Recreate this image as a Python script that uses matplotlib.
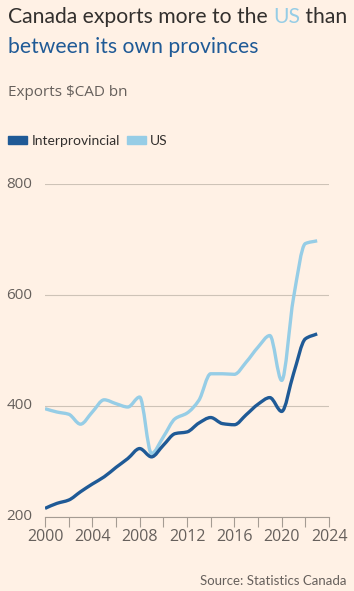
import matplotlib.pyplot as plt
from matplotlib.path import Path
from matplotlib.patches import PathPatch
import numpy as np

# data, $CAD bn
years = list(range(2000, 2024))
interprovincial = [215, 224, 230, 245, 259, 272, 289, 305, 323, 308, 329, 350,
                   353, 369, 379, 368, 366, 384, 403, 415, 390, 458, 521, 530]
us = [395, 389, 385, 367, 389, 411, 404, 398, 416, 314, 344, 377,
      387, 410, 458, 458, 457, 479, 506, 527, 446, 595, 693, 698]

y_ticks = [200, 400, 600, 800]
x_ticks = [2000, 2004, 2008, 2012, 2016, 2020, 2024]

BG = '#FFF1E5'
DARK = '#1F5A96'
LIGHT = '#96CDE6'
TEXT = '#33302E'
GREY = '#66605C'
GRID = '#CEC3B7'

plt.rcParams['font.family'] = ['Open Sans', 'DejaVu Sans']
LATO = ['Lato', 'DejaVu Sans']


def monotone_path(x, y):
    # cubic bezier path through the points (monotone-x tangents, like d3)
    x = np.asarray(x, float)
    y = np.asarray(y, float)
    h = np.diff(x)
    d = np.diff(y) / h
    m = np.zeros_like(y)
    m[0], m[-1] = d[0], d[-1]
    for i in range(1, len(y) - 1):
        if d[i-1] * d[i] <= 0:
            m[i] = 0
        else:
            m[i] = 3 * (h[i-1] + h[i]) / ((2*h[i] + h[i-1]) / d[i-1] + (h[i] + 2*h[i-1]) / d[i])
    verts = [(x[0], y[0])]
    codes = [Path.MOVETO]
    for i in range(len(x) - 1):
        dx = h[i] / 3
        verts += [(x[i] + dx, y[i] + m[i]*dx), (x[i+1] - dx, y[i+1] - m[i+1]*dx), (x[i+1], y[i+1])]
        codes += [Path.CURVE4] * 3
    return Path(verts, codes)


fig = plt.figure(figsize=(3.54, 5.91), dpi=100, facecolor=BG)
ax = fig.add_axes([45/354, 74.3/591, 284/354, 332.4/591], facecolor=BG)

for vals, col, z in [(us, LIGHT, 3), (interprovincial, DARK, 4)]:
    ax.add_patch(PathPatch(monotone_path(years, vals), facecolor='none', edgecolor=col,
                           lw=2.4, joinstyle='round', capstyle='butt', zorder=z))

ax.set_xlim(2000, 2024)
ax.set_ylim(200, 800)
ax.set_yticks(y_ticks)
ax.set_xticks(x_ticks)
ax.set_xticks(range(2000, 2025, 2), minor=True)
ax.grid(axis='y', color=GRID, lw=0.8)
ax.set_axisbelow(True)
for s in ['top', 'right', 'left']:
    ax.spines[s].set_visible(False)
ax.spines['bottom'].set_color('#A59C93')
ax.spines['bottom'].set_linewidth(0.8)
ax.tick_params(axis='y', length=0, pad=9, labelsize=11, labelcolor=GREY)
ax.tick_params(axis='x', which='both', length=7, width=0.8, color='#A59C93',
               labelsize=11.5, labelcolor=GREY, pad=2)
for lbl in ax.get_yticklabels():
    lbl.set_verticalalignment('center')

# title, two colours
ty = 1 - 17/591
t1 = fig.text(8/354, ty, 'Canada exports more to the ', fontsize=15.2, color=TEXT,
              va='center', family=LATO)
fig.canvas.draw()
r = fig.canvas.get_renderer()
bb = t1.get_window_extent(r)
t2 = fig.text(bb.x1/354, ty, 'US', fontsize=15.2, color=LIGHT, va='center', family=LATO)
bb2 = t2.get_window_extent(r)
fig.text(bb2.x1/354, ty, ' than', fontsize=15.2, color=TEXT, va='center', family=LATO)
fig.text(8/354, 1 - 47/591, 'between its own provinces', fontsize=15.2, color=DARK,
         va='center', family=LATO)

fig.text(8/354, 1 - 93/591, 'Exports $CAD bn', fontsize=11, color=GREY, va='center')

# legend
fig.patches.append(plt.Rectangle((8/354, 1 - 144/591), 19/354, 8/591,
                                 transform=fig.transFigure, color=DARK, figure=fig))
fig.text(32/354, 1 - 140.5/591, 'Interprovincial', fontsize=10, color=TEXT, va='center',
         family=LATO)
fig.patches.append(plt.Rectangle((127/354, 1 - 144/591), 19/354, 8/591,
                                 transform=fig.transFigure, color=LIGHT, figure=fig))
fig.text(150/354, 1 - 140.5/591, 'US', fontsize=10, color=TEXT, va='center', family=LATO)

fig.text(347/354, 1 - 581/591, 'Source: Statistics Canada', fontsize=9.5, color=GREY,
         va='center', ha='right', family=LATO)

fig.savefig('out.png', dpi=100, facecolor=BG)
